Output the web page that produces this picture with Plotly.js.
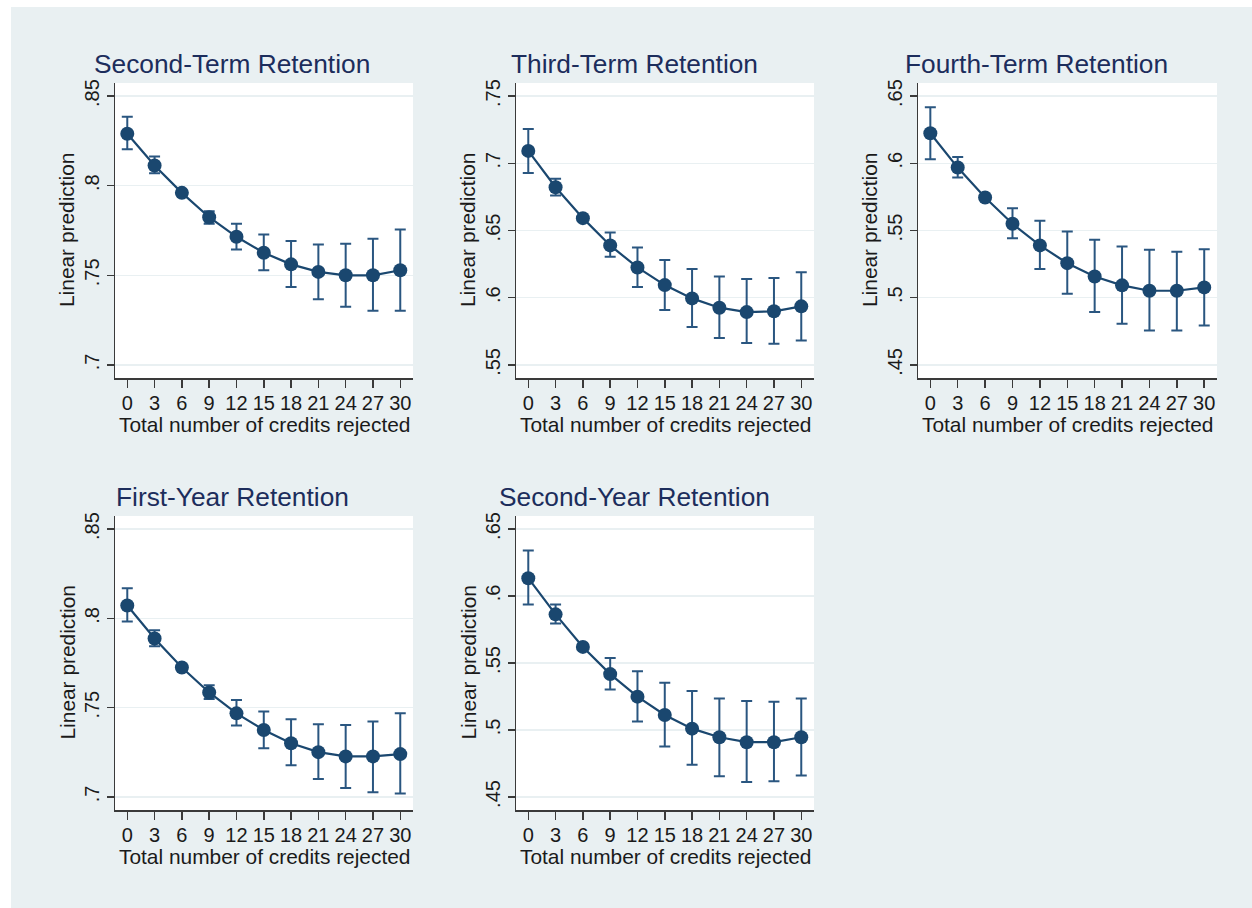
<!DOCTYPE html>
<html>
<head>
<meta charset="utf-8">
<script src="https://cdn.plot.ly/plotly-3.0.1.min.js"></script>
<style>
  html, body { margin: 0; padding: 0; background: #ffffff; width: 1252px; height: 908px; overflow: hidden; }
  #chart { position: absolute; left: 11px; top: 7px; width: 1241px; height: 901px; }
</style>
</head>
<body>
<div id="chart"></div>
<script>
// ---------------- data ----------------
const credits = [0, 3, 6, 9, 12, 15, 18, 21, 24, 27, 30];
const xTickLabels = ["0", "3", "6", "9", "12", "15", "18", "21", "24", "27", "30"];

const panelTitles = ["Second-Term Retention", "Third-Term Retention", "Fourth-Term Retention",
                     "First-Year Retention", "Second-Year Retention"];
const xAxisTitle = "Total number of credits rejected";
const yAxisTitle = "Linear prediction";

// Second-Term Retention
const secondTermPred = [0.829, 0.8113, 0.796, 0.7824, 0.7715, 0.7626, 0.7561, 0.7519, 0.750, 0.750, 0.7528];
const secondTermLo   = [0.8204, 0.807, 0.7945, 0.7787, 0.7644, 0.7528, 0.7435, 0.7367, 0.7324, 0.7302, 0.7302];
const secondTermHi   = [0.8385, 0.8163, 0.7975, 0.7857, 0.7787, 0.7728, 0.7691, 0.7672, 0.7676, 0.7704, 0.7756];

// Third-Term Retention
const thirdTermPred = [0.7092, 0.6822, 0.6592, 0.6389, 0.6225, 0.6094, 0.5995, 0.5926, 0.5893, 0.5899, 0.5936];
const thirdTermLo   = [0.6928, 0.676, 0.6575, 0.6304, 0.6079, 0.5908, 0.5782, 0.5701, 0.5663, 0.5658, 0.5681];
const thirdTermHi   = [0.7255, 0.6884, 0.661, 0.6485, 0.6374, 0.628, 0.6213, 0.6158, 0.6139, 0.6146, 0.619];

// Fourth-Term Retention
const fourthTermPred = [0.6223, 0.5968, 0.5745, 0.555, 0.5389, 0.5257, 0.5158, 0.5092, 0.5052, 0.5052, 0.5077];
const fourthTermLo   = [0.603, 0.5894, 0.5728, 0.5443, 0.5213, 0.503, 0.4894, 0.4807, 0.4757, 0.4757, 0.4794];
const fourthTermHi   = [0.6416, 0.6047, 0.5762, 0.5666, 0.5572, 0.5493, 0.5431, 0.5381, 0.5356, 0.5342, 0.5361];

// First-Year Retention
const firstYearPred = [0.8072, 0.7887, 0.7725, 0.7585, 0.7468, 0.7375, 0.7301, 0.7251, 0.7227, 0.7227, 0.724];
const firstYearLo   = [0.7983, 0.7844, 0.771, 0.7548, 0.740, 0.7273, 0.7177, 0.710, 0.705, 0.7026, 0.7019];
const firstYearHi   = [0.8169, 0.7933, 0.774, 0.7626, 0.7543, 0.7478, 0.7435, 0.7407, 0.7403, 0.7422, 0.7468];

// Second-Year Retention
const secondYearPred = [0.6133, 0.5863, 0.562, 0.5417, 0.5249, 0.5112, 0.501, 0.4946, 0.4909, 0.4909, 0.4946];
const secondYearLo   = [0.5937, 0.5794, 0.5603, 0.5303, 0.5063, 0.4877, 0.474, 0.4654, 0.4612, 0.4617, 0.4661];
const secondYearHi   = [0.6339, 0.5937, 0.5637, 0.5538, 0.5439, 0.5353, 0.5291, 0.5236, 0.5216, 0.5211, 0.5236];

// y-axis ticks per panel
const yTicksHigh  = [0.70, 0.75, 0.80, 0.85];
const yLabelsHigh = [".7", ".75", ".8", ".85"];
const yTicksMid   = [0.55, 0.60, 0.65, 0.70, 0.75];
const yLabelsMid  = [".55", ".6", ".65", ".7", ".75"];
const yTicksLow   = [0.45, 0.50, 0.55, 0.60, 0.65];
const yLabelsLow  = [".45", ".5", ".55", ".6", ".65"];

// ---------------- layout helpers ----------------
const W = 1241, H = 901, OX = 11, OY = 7;   // chart div placement on page
const px2x = p => (p - OX) / W;
const px2y = p => 1 - (p - OY) / H;

const BG = "#e9f0f2";
const NAVY = "#1a476f";
const ERR = "#2a5680";
const TITLE_C = "#1c2d5c";
const TEXT_C = "#1a1a1a";
const AXIS_C = "#3a3a3a";
const FONT = "Liberation Sans, Arial, Helvetica, sans-serif";

const panels = [
  {pred: secondTermPred, lo: secondTermLo, hi: secondTermHi, x0: 115, x1: 413, y0: 83,  y1: 378, yr: [0.6927, 0.8573], tv: yTicksHigh, tt: yLabelsHigh},
  {pred: thirdTermPred,  lo: thirdTermLo,  hi: thirdTermHi,  x0: 516, x1: 814, y0: 83,  y1: 378, yr: [0.5403, 0.7597], tv: yTicksMid,  tt: yLabelsMid},
  {pred: fourthTermPred, lo: fourthTermLo, hi: fourthTermHi, x0: 918, x1: 1217, y0: 83, y1: 378, yr: [0.4403, 0.6597], tv: yTicksLow,  tt: yLabelsLow},
  {pred: firstYearPred,  lo: firstYearLo,  hi: firstYearHi,  x0: 115, x1: 413, y0: 516, y1: 810, yr: [0.6927, 0.8573], tv: yTicksHigh, tt: yLabelsHigh},
  {pred: secondYearPred, lo: secondYearLo, hi: secondYearHi, x0: 516, x1: 814, y0: 516, y1: 810, yr: [0.4403, 0.6597], tv: yTicksLow,  tt: yLabelsLow}
];
const titleCenters = [232, 634.5, 1036.5, 232, 634.5];

const traces = [];
const layout = {
  width: W, height: H,
  margin: {l: 0, r: 0, t: 0, b: 0, pad: 0},
  paper_bgcolor: BG,
  plot_bgcolor: "#ffffff",
  showlegend: false,
  font: {family: FONT, color: TEXT_C, size: 20},
  annotations: []
};

panels.forEach((p, i) => {
  const n = i === 0 ? "" : String(i + 1);
  traces.push({
    type: "scatter",
    mode: "lines+markers",
    x: credits,
    y: p.pred,
    xaxis: "x" + n,
    yaxis: "y" + n,
    line: {color: NAVY, width: 2.2},
    marker: {color: NAVY, size: 14},
    error_y: {
      type: "data", symmetric: false,
      array: p.hi.map((h, k) => h - p.pred[k]),
      arrayminus: p.lo.map((l, k) => p.pred[k] - l),
      color: ERR, thickness: 2, width: 5.5
    },
    hoverinfo: "x+y"
  });

  layout["xaxis" + n] = {
    domain: [px2x(p.x0), px2x(p.x1)],
    anchor: "y" + n,
    range: [-1.35, 31.4],
    tickmode: "array", tickvals: credits, ticktext: xTickLabels,
    ticks: "outside", ticklen: 8, tickwidth: 1.5, tickcolor: AXIS_C,
    ticklabelstandoff: -2,
    showline: true, linecolor: AXIS_C, linewidth: 1.5,
    showgrid: false, zeroline: false,
    tickfont: {family: FONT, size: 20, color: TEXT_C},
    fixedrange: true
  };
  layout["yaxis" + n] = {
    domain: [px2y(p.y1), px2y(p.y0)],
    anchor: "x" + n,
    range: p.yr,
    tickmode: "array", tickvals: p.tv, ticktext: p.tt,
    tickangle: -90,
    ticks: "outside", ticklen: 7, tickwidth: 1.5, tickcolor: AXIS_C,
    showline: true, linecolor: AXIS_C, linewidth: 1.5,
    showgrid: true, gridcolor: BG, gridwidth: 1.5,
    zeroline: false,
    tickfont: {family: FONT, size: 20, color: TEXT_C},
    fixedrange: true
  };

  // panel title
  layout.annotations.push({
    xref: "paper", yref: "paper",
    x: px2x(titleCenters[i]), y: px2y(p.y0 - 19),
    xanchor: "center", yanchor: "middle",
    text: panelTitles[i], showarrow: false,
    font: {family: FONT, size: 26.3, color: TITLE_C}
  });
  // x-axis title
  layout.annotations.push({
    xref: "paper", yref: "paper",
    x: px2x((p.x0 + p.x1) / 2), y: px2y(p.y1 + 46),
    xanchor: "center", yanchor: "middle",
    text: xAxisTitle, showarrow: false,
    font: {family: FONT, size: 20.9, color: TEXT_C}
  });
  // y-axis title
  layout.annotations.push({
    xref: "paper", yref: "paper",
    x: px2x(p.x0 - 48.5), y: px2y((p.y0 + p.y1) / 2),
    xanchor: "center", yanchor: "middle",
    text: yAxisTitle, showarrow: false, textangle: -90,
    font: {family: FONT, size: 20.9, color: TEXT_C}
  });
});

Plotly.newPlot("chart", traces, layout, {displayModeBar: false, staticPlot: true});
</script>
</body>
</html>
